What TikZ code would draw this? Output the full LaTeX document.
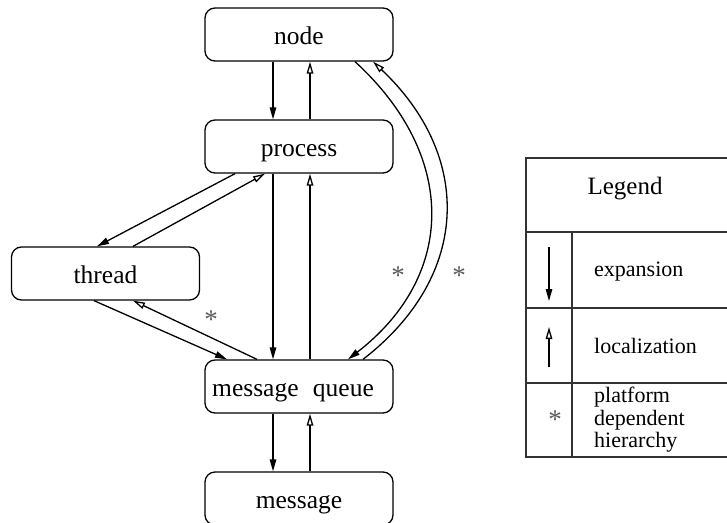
\documentclass[tikz,border=0pt]{standalone}
\usepackage{fontspec}
\setmainfont{Liberation Serif}
\usetikzlibrary{arrows.meta}
\tikzset{
  unit/.style={draw, line width=1.3pt, rounded corners=10pt, minimum width=188pt,
    minimum height=53pt, inner sep=0pt, text height=20pt, text depth=0pt,
    font=\fontsize{25.5}{28}\selectfont},
  expand/.style={line width=1.3pt, -{Triangle[length=12pt,width=6.5pt]}},
  localize/.style={line width=1.3pt, -{Triangle[open,length=12pt,width=6.5pt]}},
  star/.style={text=black!65, font=\fontsize{27}{28}\selectfont, inner sep=0pt},
  legtext/.style={anchor=west, inner sep=0pt, font=\fontsize{22}{22.5}\selectfont, align=left},
  legline/.style={line width=1.7pt, draw=black!80}
}
\begin{document}
\begin{tikzpicture}[x=1pt, y=-1pt]
\useasboundingbox (0,0) rectangle (727,522);

% hierarchy boxes
\node[unit] (node) at (299,34.5) {node};
\node[unit] (proc) at (299,146.5) {process};
\node[unit] (thread) at (105.5,273.5) {thread};
\node[unit] (mq) at (299,386.5) {message\hspace{8pt} queue\rule{12pt}{0pt}};
\node[unit] (msg) at (299,498.5) {message};

% node <-> process
\draw[expand] ([xshift=-26pt]node.south) -- ([xshift=-26pt]proc.north);
\draw[localize] ([xshift=11pt]proc.north) -- ([xshift=11pt]node.south);

% process <-> message queue
\draw[expand] ([xshift=-26pt]proc.south) -- ([xshift=-26pt]mq.north);
\draw[localize] ([xshift=11pt]mq.north) -- ([xshift=11pt]proc.south);

% message queue <-> message
\draw[expand] ([xshift=-26pt]mq.south) -- ([xshift=-26pt]msg.north);
\draw[localize] ([xshift=11pt]msg.north) -- ([xshift=11pt]mq.south);

% process <-> thread
\draw[expand] ([xshift=-64pt]proc.south) -- ([xshift=-8.5pt]thread.north);
\draw[localize] ([xshift=27.5pt]thread.north) -- ([xshift=-34pt]proc.south);

% thread <-> message queue
\draw[expand] ([xshift=-11.5pt]thread.south) -- ([xshift=-72pt]mq.north);
\draw[localize] ([xshift=-42pt]mq.north) -- ([xshift=27.5pt]thread.south);

% node <-> message queue (platform dependent)
\draw[expand] ([xshift=56pt]node.south) .. controls (457,155) and (457,275) .. ([xshift=49pt]mq.north);
\draw[localize] ([xshift=64pt]mq.north) .. controls (472,275) and (472,155) .. ([xshift=74pt]node.south);

% platform dependent marks
\node[star] (s1) at (211,320) {*};
\node[star] (s2) at (398,276) {*};
\node[star] (s3) at (459,276) {*};

% legend table
\draw[legline] (740,158) -- (526,158) -- (526,457) -- (740,457);
\draw[legline] (526,232) -- (740,232);
\draw[legline] (526,308) -- (740,308);
\draw[legline] (526,383) -- (740,383);
\draw[legline] (572,232) -- (572,457);
\node[font=\fontsize{25}{28}\selectfont, inner sep=0pt] (legend) at (625,189) {Legend};

\coordinate (ea) at (549,247);
\coordinate (eb) at (549,301);
\draw[expand] (ea) -- (eb);
\node[legtext] (exp) at (594,272) {expansion};

\coordinate (la) at (549,367);
\coordinate (lb) at (549,327);
\draw[localize] (la) -- (lb);
\node[legtext] (loc) at (594,346) {localization};

\node[star] (s4) at (555,420) {*};
\node[legtext] (pdh) at (594,420) {platform\\dependent\\hierarchy};
\end{tikzpicture}
\end{document}
